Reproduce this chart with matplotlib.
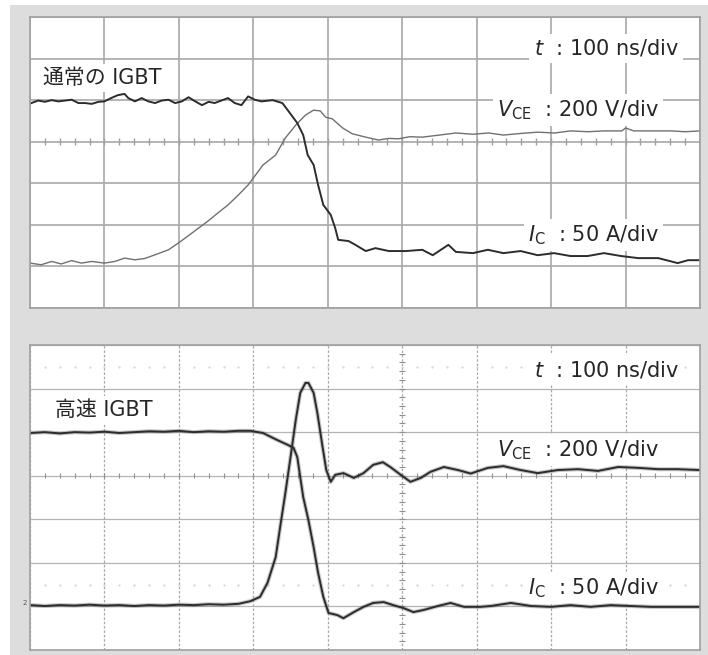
import numpy as np
import matplotlib.pyplot as plt
from matplotlib.patches import Rectangle

plt.rcParams['font.family'] = ['DejaVu Sans', 'Noto Sans CJK JP']
plt.rcParams['mathtext.fontset'] = 'dejavusans'

# time in ns (100 ns/div), level in screen divisions
normal_ic_t = [2, 11, 20, 29, 38, 47, 56, 65, 74, 83, 92, 100, 109, 118, 127, 132, 141, 150,
               159, 168, 177, 186, 195, 204, 213, 222, 231, 240, 248, 257, 266, 275, 284, 293,
               302, 311, 326, 339, 347, 359, 367, 373, 381, 387, 394, 404, 410, 414, 428, 437,
               451, 464, 482, 505, 527, 541, 562, 572, 595, 615, 636, 659, 682, 704, 726, 749,
               771, 794, 817, 844, 870, 884, 900]
normal_ic = [4.93, 4.99, 4.96, 5.00, 4.97, 4.99, 5.01, 4.93, 4.93, 4.91, 4.96, 4.97, 5.05, 5.12,
             5.15, 5.05, 4.97, 5.05, 4.97, 4.93, 4.99, 5.01, 4.93, 4.97, 5.07, 4.97, 4.88, 4.96,
             4.93, 4.99, 5.05, 4.93, 4.88, 5.09, 5.01, 4.97, 5.00, 4.93, 4.74, 4.45, 4.16, 3.68,
             3.44, 2.96, 2.48, 2.24, 1.92, 1.64, 1.61, 1.52, 1.37, 1.44, 1.37, 1.37, 1.40, 1.27,
             1.52, 1.35, 1.32, 1.40, 1.32, 1.37, 1.27, 1.32, 1.25, 1.25, 1.32, 1.25, 1.20, 1.20,
             1.08, 1.15, 1.15]

normal_vce_t = [0, 15, 29, 42, 56, 69, 83, 100, 114, 127, 141, 154, 168, 186, 203, 221, 239, 252,
                266, 280, 293, 303, 313, 330, 343, 357, 370, 381, 390, 397, 406, 420, 433, 451,
                468, 482, 495, 510, 527, 550, 572, 595, 616, 636, 660, 682, 705, 726, 750, 771,
                795, 800, 811, 840, 861, 880, 900]
normal_vce = [1.08, 1.04, 1.12, 1.06, 1.14, 1.08, 1.12, 1.08, 1.12, 1.20, 1.16, 1.19, 1.28, 1.40,
              1.61, 1.85, 2.09, 2.28, 2.48, 2.72, 2.96, 3.20, 3.44, 3.68, 4.09, 4.40, 4.64, 4.76,
              4.74, 4.59, 4.55, 4.33, 4.19, 4.11, 4.04, 4.08, 4.07, 4.12, 4.11, 4.16, 4.21, 4.18,
              4.21, 4.16, 4.20, 4.23, 4.21, 4.26, 4.24, 4.26, 4.26, 4.33, 4.26, 4.26, 4.26, 4.24,
              4.26]

fast_ic_t = [0, 20, 40, 60, 80, 100, 120, 140, 160, 180, 200, 220, 240, 260, 280, 296, 313, 332,
             346, 354, 359, 363, 367, 374, 381, 387, 394, 401, 413, 421, 435, 448, 461, 475, 488,
             502, 515, 529, 548, 565, 583, 605, 619, 646, 673, 700, 726, 753, 780, 807, 834, 861,
             900]
fast_ic = [4.98, 5.00, 4.97, 5.00, 4.99, 5.01, 4.98, 5.00, 5.02, 5.01, 5.03, 5.00, 5.02, 5.01,
           5.03, 5.03, 4.98, 4.82, 4.71, 4.64, 4.43, 3.97, 3.51, 2.98, 2.36, 1.77, 1.22, 0.85,
           0.80, 0.73, 0.87, 0.99, 1.08, 1.10, 1.03, 0.96, 0.87, 0.92, 1.01, 1.08, 0.99, 0.99,
           1.01, 1.08, 1.01, 0.99, 1.03, 0.99, 1.03, 1.01, 0.99, 0.99, 0.99]

fast_vce_t = [0, 20, 40, 60, 80, 100, 120, 140, 160, 180, 200, 220, 240, 260, 280, 296, 309, 319,
              330, 336, 343, 350, 357, 363, 370, 374, 381, 386, 393, 398, 404, 410, 421, 435, 448,
              461, 474, 484, 498, 511, 525, 538, 556, 575, 592, 615, 636, 659, 682, 709, 736, 763,
              790, 817, 844, 870, 900]
fast_vce = [1.03, 1.01, 1.03, 1.02, 1.04, 1.02, 1.03, 1.01, 1.03, 1.02, 1.04, 1.03, 1.05, 1.04,
            1.06, 1.12, 1.22, 1.54, 2.13, 2.82, 3.60, 4.43, 5.28, 5.90, 6.13, 6.13, 5.90, 5.44,
            4.66, 4.13, 3.86, 4.02, 4.06, 3.95, 4.06, 4.25, 4.31, 4.20, 4.02, 3.86, 3.95, 4.09,
            4.20, 4.13, 4.05, 4.18, 4.22, 4.13, 4.06, 4.13, 4.15, 4.11, 4.20, 4.18, 4.15, 4.15,
            4.13]

titles = ['通常の IGBT', '高速 IGBT']
time_label = r'$t$  : 100 ns/div'
vce_label = r'$V_{\rm CE}$  : 200 V/div'
ic_label = r'$I_{\rm C}$  : 50 A/div'

W, H = 708, 655
fig = plt.figure(figsize=(W / 100, H / 100), dpi=100)
fig.patches.append(Rectangle((10 / W, 0), 1, 1 - 5 / H, transform=fig.transFigure,
                             facecolor='#dddddd', edgecolor='none', zorder=-10))

box = dict(facecolor='white', edgecolor='none', pad=3)
txt = dict(fontsize=15, va='center', color='#262626', bbox=box, zorder=1.8)


def screen(rect, fast):
    ax = fig.add_axes(rect)
    ax.set_xlim(0, 900)
    ax.set_ylim(0, 7)
    ax.set_xticks(np.arange(0, 901, 100))
    ax.set_yticks(np.arange(0, 8))
    ax.tick_params(length=0, labelbottom=False, labelleft=False)
    for s in ax.spines.values():
        s.set_color('#a0a0a0')
        s.set_linewidth(1.2)
    if fast:
        ax.xaxis.grid(True, color='#a8a8a8', lw=0.9, ls=(0, (2, 1.5)))
        ax.yaxis.grid(True, color='#b4b4b4', lw=0.9)
        ax.vlines(np.arange(20, 900, 20), 3.94, 4.06, color='#909090', lw=0.8)
        ax.hlines(np.arange(0.2, 7, 0.2), 496, 504, color='#909090', lw=0.8)
        for row in (1.5, 6.5):
            ax.plot(np.arange(20, 900, 20), np.full(44, row), ls='none', marker='.',
                    ms=1.2, color='#d4d4d4', zorder=1)
    else:
        ax.grid(True, color='#a8a8a8', lw=1.2)
        ax.vlines(np.arange(20, 900, 20), 3.92, 4.08, color='#a0a0a0', lw=1.0, zorder=1)
    ax.set_axisbelow(True)
    return ax


ax1 = screen([30 / W, 1 - 308 / H, 670 / W, 291 / H], False)
ax1.plot(normal_vce_t, normal_vce, color='#707070', lw=1.0)
ax1.plot(normal_ic_t, normal_ic, color='#2c2c2c', lw=1.4)
ax1.text(17, 5.53, titles[0], ha='left', **txt)
ax1.text(872, 6.25, time_label, ha='right', **txt)
ax1.text(845, 4.76, vce_label, ha='right', **txt)
ax1.text(845, 1.76, ic_label, ha='right', **txt)

ax2 = screen([30 / W, 5 / H, 670 / W, 305 / H], True)
for t, v in ((fast_vce_t, fast_vce), (fast_ic_t, fast_ic)):
    ax2.plot(t, v, color='#444444', lw=3.0, alpha=0.3)
    ax2.plot(t, v, color='#2c2c2c', lw=1.4)
ax2.text(34, 5.51, titles[1], ha='left', **txt)
ax2.text(872, 6.43, time_label, ha='right', **txt)
ax2.text(845, 4.59, vce_label, ha='right', **txt)
ax2.text(845, 1.42, ic_label, ha='right', **txt)
ax2.text(-7, 1.08, '2', fontsize=5, ha='center', va='center', color='#555555', clip_on=False)

fig.savefig('out.png', dpi=100)
